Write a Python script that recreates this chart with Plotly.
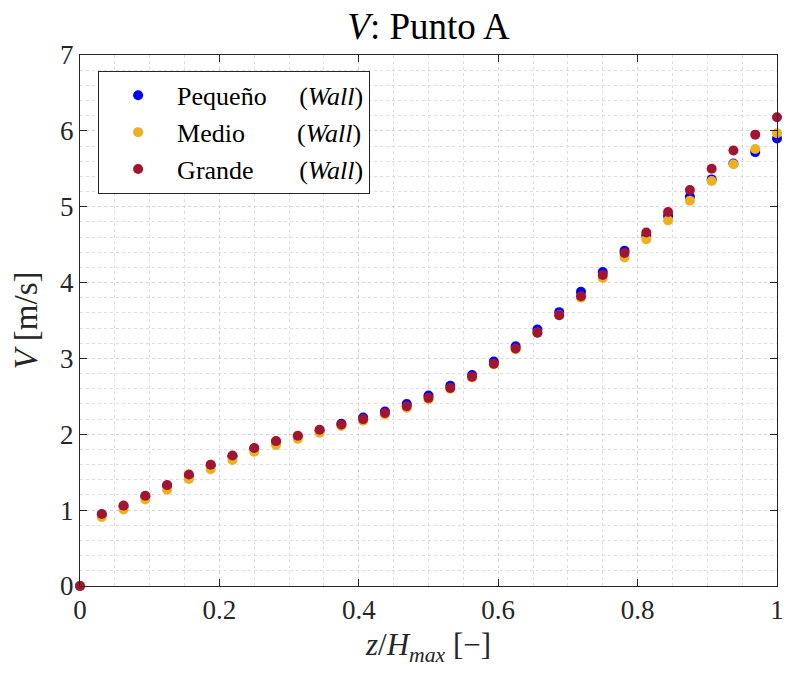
import plotly.graph_objects as go

# z/Hmax sampling: 33 stations, 0 to 1
z_rel = [k / 32 for k in range(33)]

v_pequeno = [
    0.00, 0.94, 1.05, 1.18, 1.32, 1.45, 1.59, 1.71, 1.81, 1.90, 1.97, 2.05,
    2.14, 2.22, 2.30, 2.40, 2.51, 2.64, 2.78, 2.96, 3.16, 3.38, 3.61, 3.88,
    4.14, 4.42, 4.62, 4.88, 5.13, 5.36, 5.57, 5.72, 5.90,
]
v_medio = [
    0.00, 0.91, 1.01, 1.14, 1.27, 1.41, 1.54, 1.66, 1.77, 1.86, 1.94, 2.02,
    2.11, 2.18, 2.26, 2.35, 2.46, 2.60, 2.75, 2.92, 3.12, 3.34, 3.57, 3.80,
    4.06, 4.33, 4.57, 4.82, 5.08, 5.34, 5.56, 5.76, 5.97,
]
v_grande = [
    0.00, 0.95, 1.06, 1.19, 1.33, 1.47, 1.60, 1.72, 1.82, 1.91, 1.98, 2.06,
    2.13, 2.20, 2.28, 2.37, 2.48, 2.61, 2.76, 2.93, 3.13, 3.34, 3.57, 3.82,
    4.10, 4.39, 4.66, 4.93, 5.22, 5.50, 5.74, 5.95, 6.18,
]

NB = "\u00a0"
series = [
    ("Pequeño" + NB * 5 + "(<i>Wall</i>)", v_pequeno, "#0000FF"),
    ("Medio" + NB * 8 + "(<i>Wall</i>)", v_medio, "#EDB120"),
    ("Grande" + NB * 7 + "(<i>Wall</i>)", v_grande, "#A2142F"),
]

FONT = "Liberation Serif, DejaVu Serif, serif"

fig = go.Figure()
for name, vals, color in series:
    fig.add_trace(go.Scatter(
        x=z_rel, y=vals, mode="markers", name=name,
        marker=dict(color=color, size=10, line=dict(width=0)),
        cliponaxis=False,
    ))

axis_common = dict(
    showline=True, linecolor="#262626", linewidth=1, mirror="allticks",
    ticks="inside", ticklen=7, tickcolor="#262626",
    showgrid=True, gridcolor="#d4d4d4", griddash="dot", gridwidth=1,
    zeroline=False, automargin=False, ticklabeloverflow="allow",
    tickfont=dict(family=FONT, size=27, color="#262626"),
)

fig.update_xaxes(
    **axis_common,
    range=[0, 1], dtick=0.2,
    minor=dict(dtick=0.05, showgrid=True, gridcolor="#dedede", griddash="dot", ticks=""),
    title=dict(text="<i>z</i>/<i>H</i><sub><i>max</i></sub> [\u2212]",
               font=dict(family=FONT, size=31, color="#262626"), standoff=11),
)
fig.update_yaxes(
    **axis_common,
    range=[0, 7], dtick=1,
    minor=dict(dtick=0.2, showgrid=True, gridcolor="#dedede", griddash="dot", ticks=""),
    title=dict(text="<i>V</i> [m/s]",
               font=dict(family=FONT, size=33, color="#262626"), standoff=12),
)

# the page body adds an 8px margin, so the figure is sized to fit inside it
fig.update_layout(
    width=777, height=659,
    margin=dict(l=72, r=8, t=47, b=81),
    paper_bgcolor="white", plot_bgcolor="white",
    title=dict(text="<i>V</i>: Punto A", xref="paper", x=0.5, xanchor="center",
               y=0.973, yanchor="middle",
               font=dict(family=FONT, size=37, color="black")),
    legend=dict(
        x=0.026, y=0.97, xanchor="left", yanchor="top",
        bgcolor="white", bordercolor="#262626", borderwidth=1,
        font=dict(family=FONT, size=26, color="black"),
        itemwidth=68, tracegroupgap=0,
    ),
    showlegend=True,
)

fig.write_html("out.html")
